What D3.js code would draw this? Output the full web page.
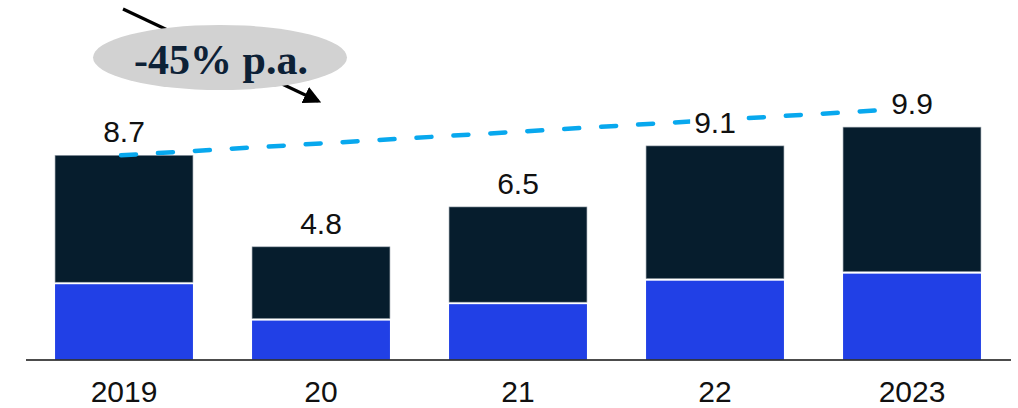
<!DOCTYPE html>
<html>
<head>
<meta charset="utf-8">
<script src="https://cdn.jsdelivr.net/npm/d3@7"></script>
<style>
  html, body { margin: 0; padding: 0; background: #fff; }
  svg { display: block; }
</style>
</head>
<body>
<svg id="chart" width="1018" height="408"></svg>
<script>
// Categories and values
const years = ["2019", "20", "21", "22", "2023"];
const totals = [8.7, 4.8, 6.5, 9.1, 9.9];
const lowerPart = [3.25, 1.7, 2.4, 3.4, 3.7];
const trendEnds = [8.7, 10.7];           // dashed trend line, first to last year
const badgeText = "-45% p.a.";

const W = 1018, H = 408;
const baseY = 359.5;
const svg = d3.select("#chart");

const x = d3.scaleBand().domain(years).range([25.5, 1010.5]).paddingInner(0.3).paddingOuter(0.15);
const y = d3.scaleLinear().domain([0, 8.7]).range([baseY, 155.3]);

const rows = years.map((yr, i) => ({
  year: yr, total: totals[i], low: lowerPart[i], high: totals[i] - lowerPart[i]
}));

// Stacked bars: blue lower segment, dark upper segment, thin white gap between
const g = svg.append("g");
g.selectAll("rect.low").data(rows).join("rect")
  .attr("class", "low")
  .attr("x", d => x(d.year))
  .attr("width", x.bandwidth())
  .attr("y", d => y(d.low) + 1)
  .attr("height", d => y(0) - y(d.low) - 1)
  .attr("fill", "#2140e6");

g.selectAll("rect.high").data(rows).join("rect")
  .attr("class", "high")
  .attr("x", d => x(d.year))
  .attr("width", x.bandwidth())
  .attr("y", d => y(d.total))
  .attr("height", d => y(d.low) - y(d.total) - 1)
  .attr("fill", "#061d2d")
  .attr("stroke", "#9aa4ad")
  .attr("stroke-width", 0.6);

// Baseline axis
const axis = d3.axisBottom(x).tickSize(0).tickPadding(0);
const ax = svg.append("g").attr("transform", `translate(0,${baseY})`).call(axis);
ax.select(".domain").attr("stroke", "#111").attr("stroke-width", 1.6);
ax.selectAll(".tick text")
  .attr("dy", null)
  .attr("y", 42)
  .attr("font-family", "Liberation Sans, Arial, sans-serif")
  .attr("font-size", 30)
  .attr("fill", "#111");

// Dashed trend line
const cx = d => x(d) + x.bandwidth() / 2;
svg.append("line")
  .attr("x1", cx(years[0]) - 3)
  .attr("y1", y(trendEnds[0]))
  .attr("x2", cx(years[years.length - 1]))
  .attr("y2", y(trendEnds[1]))
  .attr("stroke", "#08a8ee")
  .attr("stroke-width", 4.5)
  .attr("stroke-linecap", "round")
  .attr("stroke-dasharray", "15 22");

// Value labels with white backing
const labels = svg.append("g").selectAll("g").data(rows).join("g")
  .attr("transform", d => `translate(${cx(d.year)},${y(d.total) - 13})`);
labels.each(function(d) {
  const t = d3.select(this);
  const txt = t.append("text")
    .attr("text-anchor", "middle")
    .attr("font-family", "Liberation Sans, Arial, sans-serif")
    .attr("font-size", 30)
    .attr("fill", "#111")
    .text(d3.format(".1f")(d.total));
  const bb = txt.node().getBBox();
  t.insert("rect", "text")
    .attr("x", bb.x - 4).attr("y", bb.y + 3)
    .attr("width", bb.width + 8).attr("height", bb.height - 4)
    .attr("fill", "#fff");
});

// Decline arrow with badge
const defs = svg.append("defs");
defs.append("marker")
  .attr("id", "arrowHead")
  .attr("viewBox", "0 0 10 10")
  .attr("refX", 8).attr("refY", 5)
  .attr("markerWidth", 5.5).attr("markerHeight", 5.5)
  .attr("markerUnits", "strokeWidth")
  .attr("orient", "auto")
  .append("path").attr("d", "M0,0 L10,5 L0,10 Z").attr("fill", "#000");

svg.append("line")
  .attr("x1", 123).attr("y1", 9)
  .attr("x2", 318).attr("y2", 101)
  .attr("stroke", "#000")
  .attr("stroke-width", 3.2)
  .attr("marker-end", "url(#arrowHead)");

svg.append("ellipse")
  .attr("cx", 220).attr("cy", 57.5)
  .attr("rx", 127).attr("ry", 32.5)
  .attr("fill", "#d2d2d2");

svg.append("text")
  .attr("x", 221).attr("y", 74)
  .attr("text-anchor", "middle")
  .attr("font-family", "Liberation Serif, Times New Roman, serif")
  .attr("font-weight", "bold")
  .attr("font-size", 42)
  .attr("fill", "#0d2136")
  .text(badgeText);
</script>
</body>
</html>
